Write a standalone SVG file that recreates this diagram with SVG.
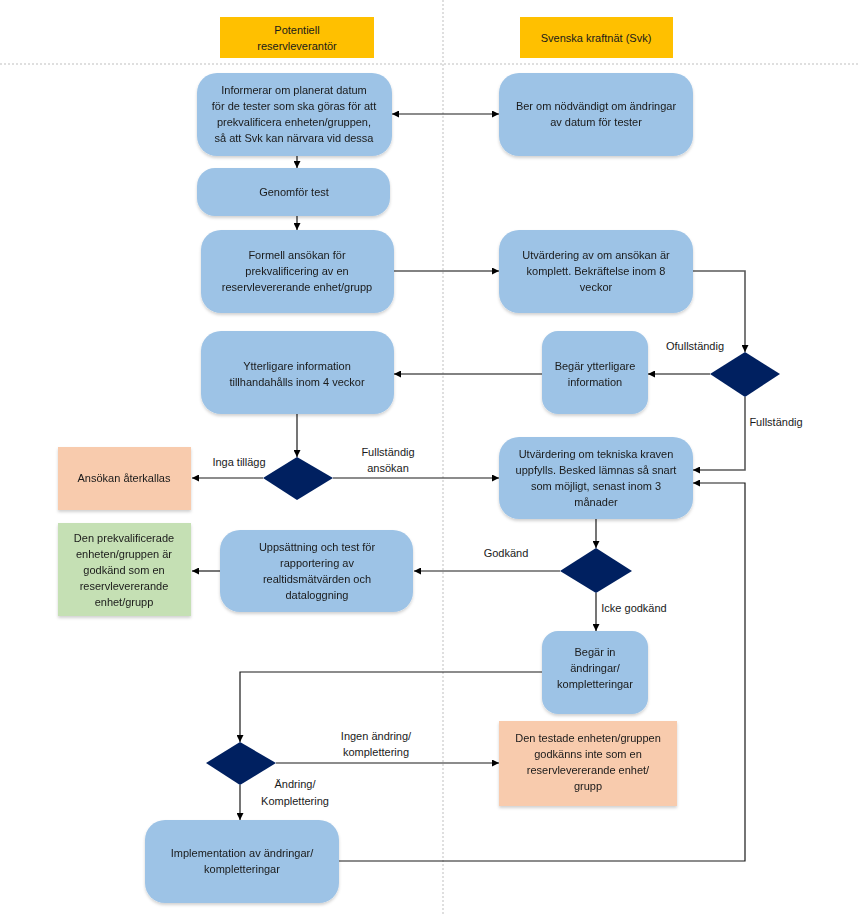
<svg xmlns="http://www.w3.org/2000/svg" width="858" height="914" viewBox="0 0 858 914">
<style>
text{font-family:"Liberation Sans",Arial,sans-serif;font-size:11px;fill:#1a1a1a;text-anchor:middle}
.node{fill:#9DC3E6}
.hdr{fill:#FFC000}
.dia{fill:#002060}
.red{fill:#F8CBAD}
.grn{fill:#C5E0B4}
.c{fill:none;stroke:#1a1a1a;stroke-width:1.2}
.g{fill:none;stroke:#595959;stroke-width:1.6}
.lane{stroke:#BFBFBF;stroke-width:1;stroke-dasharray:2 2;fill:none}
</style>
<defs>
<marker id="a" viewBox="0 0 10 10" refX="10" refY="5" markerWidth="7" markerHeight="7" markerUnits="userSpaceOnUse" orient="auto-start-reverse"><path d="M0,0L10,5L0,10z" fill="#000"/></marker>
<filter id="s" x="-10%" y="-10%" width="120%" height="130%"><feDropShadow dx="0" dy="2" stdDeviation="1.5" flood-color="#000" flood-opacity="0.18"/></filter>
</defs>
<rect width="858" height="914" fill="#fff"/>
<g id="lanes">
<line class="lane" x1="443" y1="0" x2="443" y2="914"/>
<line class="lane" x1="0" y1="64" x2="858" y2="64"/>
</g>
<g id="hdr1"><rect class="hdr" x="220" y="17" width="154" height="41"/><text x="297" y="34">Potentiell</text><text x="297" y="50">reservleverantör</text></g>
<g id="hdr2"><rect class="hdr" x="520" y="17" width="153" height="41"/><text x="596" y="42">Svenska kraftnät (Svk)</text></g>

<g id="connectors">
<line class="c" x1="392" y1="114" x2="499" y2="114" marker-start="url(#a)" marker-end="url(#a)"/>
<line class="c" x1="297" y1="156" x2="297" y2="168" marker-end="url(#a)"/>
<line class="c" x1="297" y1="216" x2="297" y2="230" marker-end="url(#a)"/>
<line class="g" x1="394" y1="271" x2="499" y2="271" marker-end="url(#a)"/>
<polyline class="g" points="693,271 745,271 745,352" marker-end="url(#a)"/>
<line class="g" x1="710" y1="374" x2="648" y2="374" marker-end="url(#a)"/>
<line class="g" x1="542" y1="374" x2="394" y2="374" marker-end="url(#a)"/>
<polyline class="g" points="745,397 745,470 693,470" marker-end="url(#a)"/>
<line class="c" x1="297" y1="414" x2="297" y2="457" marker-end="url(#a)"/>
<line class="c" x1="263" y1="478" x2="192" y2="478" marker-end="url(#a)"/>
<line class="c" x1="333" y1="478" x2="499" y2="478" marker-end="url(#a)"/>
<line class="c" x1="596" y1="519" x2="596" y2="548" marker-end="url(#a)"/>
<line class="c" x1="560" y1="571" x2="414" y2="571" marker-end="url(#a)"/>
<line class="c" x1="220" y1="571" x2="192" y2="571" marker-end="url(#a)"/>
<line class="c" x1="596" y1="593" x2="596" y2="631" marker-end="url(#a)"/>
<polyline class="c" points="542,672 240,672 240,742" marker-end="url(#a)"/>
<line class="c" x1="276" y1="763" x2="499" y2="763" marker-end="url(#a)"/>
<line class="c" x1="240" y1="785" x2="240" y2="820" marker-end="url(#a)"/>
<polyline class="c" points="339,861 745,861 745,483 693,483" marker-end="url(#a)"/>
</g>

<g id="labels">
<text x="695" y="350">Ofullständig</text>
<text x="776" y="426">Fullständig</text>
<text x="239" y="466">Inga tillägg</text>
<text x="388" y="456">Fullständig</text>
<text x="388" y="472">ansökan</text>
<text x="506" y="557">Godkänd</text>
<text x="634" y="612">Icke godkänd</text>
<text x="376" y="740">Ingen ändring/</text>
<text x="376" y="756">komplettering</text>
<text x="295" y="788">Ändring/</text>
<text x="295" y="805">Komplettering</text>
</g>

<g id="n1" filter="url(#s)"><rect class="node" x="197" y="73" width="195" height="83" rx="20"/>
<text x="294" y="94">Informerar om planerat datum</text><text x="294" y="110">för de tester som ska göras för att</text><text x="294" y="126">prekvalificera enheten/gruppen,</text><text x="294" y="142">så att Svk kan närvara vid dessa</text></g>
<g id="n2" filter="url(#s)"><rect class="node" x="499" y="73" width="194" height="83" rx="20"/>
<text x="596" y="110">Ber om nödvändigt om ändringar</text><text x="596" y="126">av datum för tester</text></g>
<g id="n3" filter="url(#s)"><rect class="node" x="197" y="168" width="193" height="48" rx="18"/>
<text x="294" y="196">Genomför test</text></g>
<g id="n4" filter="url(#s)"><rect class="node" x="201" y="230" width="193" height="83" rx="20"/>
<text x="297" y="259">Formell ansökan för</text><text x="297" y="275">prekvalificering av en</text><text x="297" y="291">reservlevererande enhet/grupp</text></g>
<g id="n5" filter="url(#s)"><rect class="node" x="499" y="230" width="194" height="83" rx="20"/>
<text x="596" y="259">Utvärdering av om ansökan är</text><text x="596" y="275">komplett. Bekräftelse inom 8</text><text x="596" y="291">veckor</text></g>
<g id="d1"><polygon class="dia" points="745,352 780,374 745,397 710,374"/></g>
<g id="n6" filter="url(#s)"><rect class="node" x="542" y="331" width="106" height="83" rx="16"/>
<text x="595" y="370">Begär ytterligare</text><text x="595" y="386">information</text></g>
<g id="n7" filter="url(#s)"><rect class="node" x="201" y="331" width="193" height="83" rx="20"/>
<text x="297" y="370">Ytterligare information</text><text x="297" y="386">tillhandahålls inom 4 veckor</text></g>
<g id="d2"><polygon class="dia" points="297,457 333,478 297,500 263,478"/></g>
<g id="n8" filter="url(#s)"><rect class="node" x="499" y="437" width="194" height="82" rx="20"/>
<text x="596" y="458">Utvärdering om tekniska kraven</text><text x="596" y="474">uppfylls. Besked lämnas så snart</text><text x="596" y="490">som möjligt, senast inom 3</text><text x="596" y="506">månader</text></g>
<g id="n12" filter="url(#s)"><rect class="red" x="58" y="447" width="133" height="63"/>
<text x="124" y="482">Ansökan återkallas</text></g>
<g id="d3"><polygon class="dia" points="596,548 632,571 596,593 560,571"/></g>
<g id="n9" filter="url(#s)"><rect class="node" x="220" y="530" width="193" height="82" rx="20"/>
<text x="317" y="551">Uppsättning och test för</text><text x="317" y="567">rapportering av</text><text x="317" y="583">realtidsmätvärden och</text><text x="317" y="599">dataloggning</text></g>
<g id="n13" filter="url(#s)"><rect class="grn" x="58" y="523" width="133" height="93"/>
<text x="124" y="542">Den prekvalificerade</text><text x="124" y="558">enheten/gruppen är</text><text x="124" y="574">godkänd som en</text><text x="124" y="590">reservlevererande</text><text x="124" y="606">enhet/grupp</text></g>
<g id="n10" filter="url(#s)"><rect class="node" x="542" y="631" width="106" height="83" rx="16"/>
<text x="595" y="656">Begär in</text><text x="595" y="672">ändringar/</text><text x="595" y="688">kompletteringar</text></g>
<g id="d4"><polygon class="dia" points="240,742 276,763 240,785 206,763"/></g>
<g id="n14" filter="url(#s)"><rect class="red" x="499" y="721" width="178" height="85"/>
<text x="588" y="742">Den testade enheten/gruppen</text><text x="588" y="758">godkänns inte som en</text><text x="588" y="774">reservlevererande enhet/</text><text x="588" y="790">grupp</text></g>
<g id="n11" filter="url(#s)"><rect class="node" x="145" y="820" width="194" height="83" rx="20"/>
<text x="242" y="857">Implementation av ändringar/</text><text x="242" y="873">kompletteringar</text></g>
</svg>
